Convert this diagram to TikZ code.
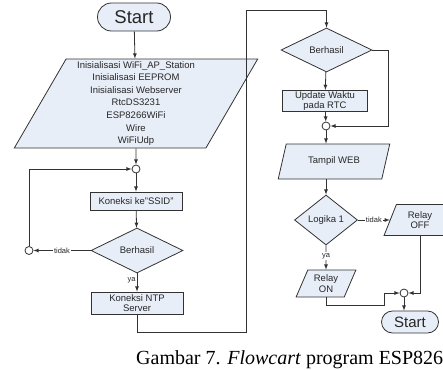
\documentclass[tikz,border=0pt]{standalone}
\usepackage{fontspec}
\setmainfont{Liberation Sans}
\newfontfamily\capfont{Liberation Serif}
\usepackage{tikz}
\usetikzlibrary{arrows,shapes.geometric,positioning}
\definecolor{boxfill}{RGB}{232,238,248}
\definecolor{linegray}{RGB}{50,50,50}

\begin{document}
\begin{tikzpicture}[x=1pt,y=-1pt]
		\tikzstyle{line}=[draw=linegray, line width=0.8pt]
		\tikzstyle{arrow}=[line, -latex]
		\tikzstyle{term}=[line, fill=boxfill, rectangle, text=black!85, inner sep=0pt]
		\tikzstyle{proc}=[line, fill=boxfill, rectangle, align=center, text=black!85, inner sep=1pt, font=\fontsize{9.5}{10.5}\selectfont]
		\tikzstyle{io}=[line, fill=boxfill, trapezium, trapezium stretches=true, align=center, text=black!85, inner sep=0pt, font=\fontsize{9.5}{10.5}\selectfont]
		\tikzstyle{decision}=[line, fill=boxfill, diamond, inner sep=0pt, text=black!85, font=\fontsize{9.5}{10.5}\selectfont]
		\tikzstyle{joint}=[line, fill=white, circle, inner sep=0pt, minimum size=8pt]
		\tikzstyle{tag}=[fill=white, inner sep=1pt, text=black!85, font=\fontsize{7.5}{8}\selectfont]
		
		\useasboundingbox (0,0) rectangle (443,369);
		
		% Start
		\node at (134,17) [term, minimum width=73pt, minimum height=28pt, rounded corners=14pt, font=\fontsize{18.5}{18.5}\selectfont] (start) {Start};
		
		% Inisialisasi
		\node at (136,103.5) [io, minimum width=244pt, minimum height=89pt, trapezium left angle=62.7, trapezium right angle=117.3, font=\fontsize{9.5}{12.6}\selectfont] (init) {Inisialisasi WiFi\_AP\_Station\\Inisialisasi EEPROM\\Inisialisasi Webserver\\RtcDS3231\\ESP8266WiFi\\Wire\\WiFiUdp};
		
		% Koneksi WiFi
		\node at (136,169) [joint] (c1) {};
		\node at (136,201) [proc, minimum width=92pt, minimum height=18pt] (koneksi) {Koneksi ke"SSID"};
		\node at (137,250.5) [decision, minimum width=92pt, minimum height=45pt] (cek1) {Berhasil};
		\node at (29,250.5) [joint] (c2) {};
		\node at (137,303) [proc, minimum width=92pt, minimum height=22pt] (ntp) {Koneksi NTP\\Server};
		
		% Update RTC
		\node at (326.5,50) [decision, minimum width=91pt, minimum height=44pt] (cek2) {Berhasil};
		\node at (325,101) [proc, minimum width=85pt, minimum height=20pt] (update) {Update Waktu\\pada RTC};
		\node at (326,126) [joint] (c3) {};
		\node at (334,161.5) [io, minimum width=112pt, minimum height=35pt, trapezium left angle=64, trapezium right angle=116] (web) {Tampil WEB};
		
		% Relay
		\node at (326,220) [decision, minimum width=63pt, minimum height=50pt] (logika) {Logika 1};
		\node at (420,220) [io, minimum width=72pt, minimum height=31pt, trapezium left angle=70, trapezium right angle=110] (roff) {Relay\\OFF};
		\node at (326,283.5) [io, minimum width=60pt, minimum height=27pt, trapezium left angle=66, trapezium right angle=114] (ron) {Relay\\ON};
		\node at (404,293) [joint] (c4) {};
		\node at (410,322) [term, minimum width=57pt, minimum height=22pt, rounded corners=11pt, font=\fontsize{15}{15}\selectfont] (start2) {Start};
		
		% Caption
		\node at (136,364) [anchor=base west, inner sep=0pt, font=\capfont\fontsize{20}{20}\selectfont] (caption) {Gambar 7. \textit{Flowcart} program ESP8266};
		
		% Column 1
		\draw [arrow] (start) -- (init);
		\draw [arrow] (init) -- (c1);
		\draw [arrow] (c1) -- (koneksi);
		\draw [arrow] (koneksi) -- (cek1);
		\draw [arrow] (cek1) -- node[tag] {tidak} (c2);
		\draw [arrow] (c2) |- (c1);
		\draw [arrow] (cek1) -- node[tag, left=0pt, pos=0.35] {ya} (ntp);
		\draw [arrow] (ntp.south) -- ++(0,18) -| (246,10) -| (cek2.north);
		
		% Column 2
		\draw [arrow] (cek2) -- (update);
		\draw [arrow] (update) -- (c3);
		\draw [arrow] (cek2.east) -- ++(16,0) |- (c3);
		\draw [arrow] (c3) -- (c3 |- web.north);
		\draw [arrow] (logika |- web.south) -- (logika);
		\draw [arrow] (logika) -- node[tag] {tidak} (roff);
		\draw [arrow] (logika) -- node[tag, pos=0.45] {ya} (ron);
		\draw [arrow] (ron.south) -- ++(0,8) -| (384,293) -- (c4);
		\draw [arrow] (roff.south) |- (c4);
		\draw [arrow] (c4) -- (c4 |- start2.north);
\end{tikzpicture}
\end{document}
